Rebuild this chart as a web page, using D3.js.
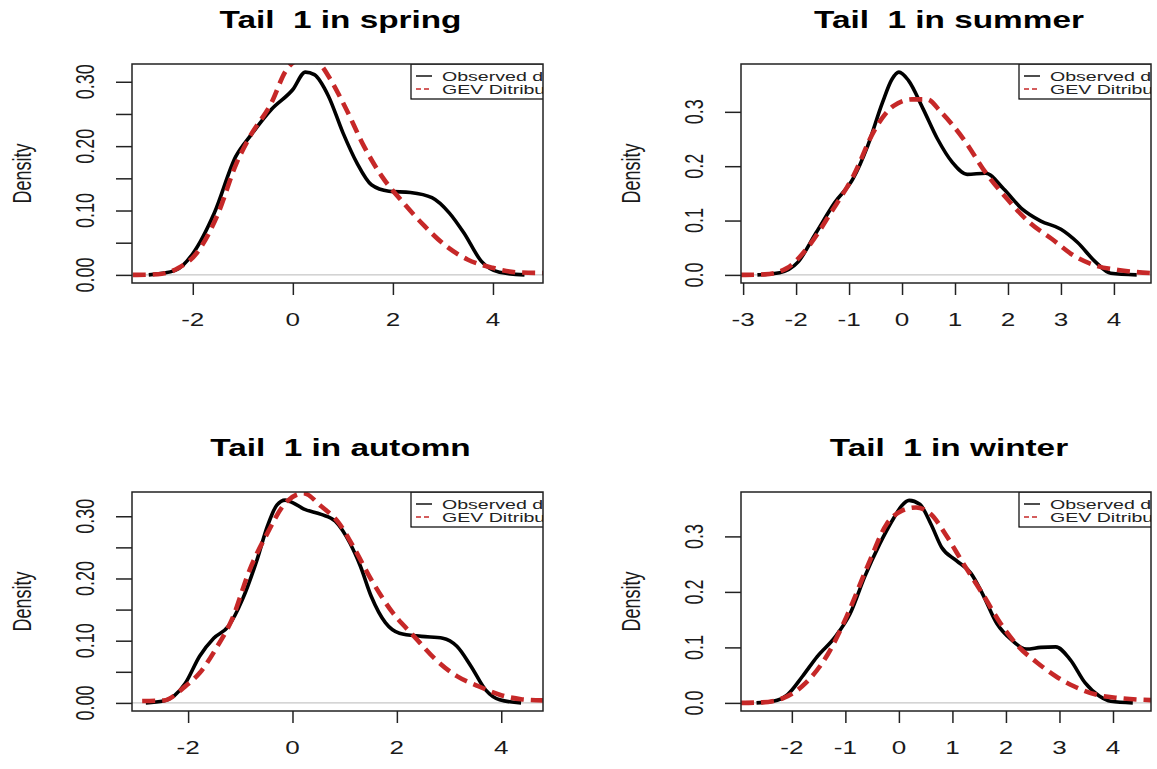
<!DOCTYPE html>
<html><head><meta charset="utf-8">
<script src="https://cdn.jsdelivr.net/npm/d3@7"></script>
<style>body{margin:0;background:#fff}</style>
</head><body>
<svg id="chart" width="1157" height="769"></svg>
<script>
// ---------- data ----------
const seasons = ["spring", "summer", "automn", "winter"];
const legendLabels = ["Observed density", "GEV Ditribution"];
const yAxisLabel = "Density";

const springXlim = [-3.215, 5.0];
const summerXlim = [-3.04, 4.70];
const autumnXlim = [-3.075, 4.80];
const winterXlim = [-2.95, 4.71];

const springYlim = [-0.0126, 0.3276];
const summerYlim = [-0.0149, 0.388];
const autumnYlim = [-0.013, 0.339];
const winterYlim = [-0.0146, 0.380];

const springXTicks = [-2, 0, 2, 4];
const summerXTicks = [-3, -2, -1, 0, 1, 2, 3, 4];
const autumnXTicks = [-2, 0, 2, 4];
const winterXTicks = [-2, -1, 0, 1, 2, 3, 4];

const springYTicks = [0, 0.05, 0.10, 0.15, 0.20, 0.25, 0.30];
const summerYTicks = [0, 0.1, 0.2, 0.3];
const autumnYTicks = [0, 0.05, 0.10, 0.15, 0.20, 0.25, 0.30];
const winterYTicks = [0, 0.1, 0.2, 0.3];

const springYLabels = ["0.00", "0.10", "0.20", "0.30"];
const summerYLabels = ["0.0", "0.1", "0.2", "0.3"];
const autumnYLabels = ["0.00", "0.10", "0.20", "0.30"];
const winterYLabels = ["0.0", "0.1", "0.2", "0.3"];

const springObserved = [[-2.88,0],[-2.35,0.007],[-1.99,0.034],[-1.57,0.096],[-1.14,0.184],[-0.85,0.216],[-0.43,0.257],[0,0.288],[0.25,0.315],[0.43,0.311],[0.71,0.278],[1.0,0.221],[1.28,0.174],[1.57,0.140],[1.92,0.130],[2.35,0.128],[2.78,0.120],[3.13,0.096],[3.42,0.065],[3.77,0.021],[4.13,0.004],[4.63,0]];
const springGEV = [[-3.2,0],[-2.7,0.001],[-2.28,0.011],[-1.92,0.034],[-1.49,0.096],[-1.14,0.171],[-0.85,0.216],[-0.43,0.267],[-0.14,0.317],[0.05,0.332],[0.3,0.337],[0.55,0.327],[0.71,0.309],[1.07,0.257],[1.42,0.200],[1.78,0.153],[2.21,0.112],[2.63,0.076],[3.06,0.045],[3.49,0.024],[3.99,0.011],[4.48,0.004],[5.0,0.003]];

const summerObserved = [[-2.73,0],[-2.31,0.004],[-1.97,0.023],[-1.62,0.078],[-1.27,0.133],[-0.93,0.176],[-0.65,0.237],[-0.37,0.317],[-0.19,0.360],[-0.06,0.373],[0.12,0.358],[0.40,0.305],[0.67,0.250],[0.95,0.207],[1.23,0.185],[1.58,0.187],[1.92,0.158],[2.27,0.121],[2.62,0.099],[3.0,0.084],[3.31,0.060],[3.66,0.023],[3.94,0.003],[4.43,0]];
const summerGEV = [[-3.04,0],[-2.59,0.001],[-2.18,0.012],[-1.76,0.053],[-1.34,0.115],[-0.92,0.182],[-0.51,0.268],[-0.16,0.311],[0.19,0.323],[0.47,0.323],[0.74,0.299],[1.16,0.250],[1.58,0.188],[1.99,0.139],[2.41,0.096],[2.83,0.066],[3.25,0.035],[3.66,0.017],[4.08,0.009],[4.74,0.003]];

const autumnObserved = [[-2.81,0],[-2.47,0.003],[-2.05,0.032],[-1.78,0.075],[-1.51,0.104],[-1.23,0.123],[-0.96,0.166],[-0.68,0.230],[-0.48,0.284],[-0.30,0.318],[-0.14,0.326],[0.0,0.322],[0.21,0.312],[0.55,0.303],[0.82,0.292],[1.10,0.257],[1.30,0.220],[1.51,0.171],[1.78,0.129],[2.05,0.112],[2.47,0.107],[2.88,0.104],[3.15,0.091],[3.42,0.059],[3.70,0.021],[3.97,0.005],[4.38,0]];
const autumnGEV = [[-2.88,0.003],[-2.47,0.004],[-2.05,0.027],[-1.78,0.048],[-1.44,0.091],[-1.16,0.134],[-0.82,0.214],[-0.48,0.273],[-0.14,0.321],[0.21,0.337],[0.55,0.316],[0.89,0.289],[1.16,0.252],[1.51,0.198],[1.92,0.145],[2.33,0.107],[2.74,0.070],[3.15,0.043],[3.56,0.027],[3.97,0.013],[4.38,0.006],[4.8,0.004]];

const winterObserved = [[-2.66,0],[-2.35,0.003],[-2.08,0.015],[-1.80,0.048],[-1.53,0.083],[-1.19,0.119],[-0.91,0.161],[-0.64,0.227],[-0.36,0.286],[-0.09,0.334],[0.05,0.355],[0.19,0.365],[0.39,0.358],[0.60,0.322],[0.80,0.280],[1.08,0.256],[1.35,0.233],[1.56,0.197],[1.83,0.143],[2.11,0.113],[2.38,0.097],[2.65,0.100],[2.93,0.101],[3.20,0.078],[3.48,0.036],[3.75,0.012],[3.96,0.003],[4.37,0]];
const winterGEV = [[-2.95,0],[-2.56,0.001],[-2.15,0.009],[-1.74,0.036],[-1.32,0.089],[-0.98,0.155],[-0.57,0.250],[-0.23,0.322],[0.05,0.346],[0.32,0.352],[0.60,0.340],[0.87,0.304],[1.21,0.250],[1.56,0.197],[1.90,0.143],[2.24,0.101],[2.59,0.072],[2.93,0.048],[3.27,0.030],[3.68,0.015],[4.09,0.009],[4.71,0.005]];

// ---------- layout ----------
const panels = [
  {season: seasons[0], box: [132, 64, 543, 283], xlim: springXlim, ylim: springYlim, xt: springXTicks, yt: springYTicks, yl: springYLabels, obs: springObserved, gev: springGEV},
  {season: seasons[1], box: [741, 64, 1151, 283], xlim: summerXlim, ylim: summerYlim, xt: summerXTicks, yt: summerYTicks, yl: summerYLabels, obs: summerObserved, gev: summerGEV},
  {season: seasons[2], box: [132, 492, 543, 711], xlim: autumnXlim, ylim: autumnYlim, xt: autumnXTicks, yt: autumnYTicks, yl: autumnYLabels, obs: autumnObserved, gev: autumnGEV},
  {season: seasons[3], box: [741, 492, 1151, 711], xlim: winterXlim, ylim: winterYlim, xt: winterXTicks, yt: winterYTicks, yl: winterYLabels, obs: winterObserved, gev: winterGEV}
];

const FONT = "'Liberation Sans', Arial, Helvetica, sans-serif";
const SX = 1.45;           // horizontal stretch of the original picture
const RED = "#c62828";
const INK = "#1a1a1a";

const svg = d3.select("#chart");

function stretchedText(g, x, y, str, size, opts = {}) {
  const rot = opts.rotate ? ` rotate(${opts.rotate})` : "";
  return g.append("text")
    .attr("transform", `translate(${x},${y}) scale(${SX},1)${rot}`)
    .attr("y", 0.358 * size)
    .attr("text-anchor", opts.anchor || "middle")
    .attr("font-family", FONT)
    .attr("font-size", size)
    .attr("font-weight", opts.bold ? "bold" : "normal")
    .attr("fill", opts.fill || INK)
    .style("white-space", "pre")
    .text(str);
}

panels.forEach((p, i) => {
  const [L, T, R, B] = p.box;
  const g = svg.append("g");
  const x = d3.scaleLinear().domain(p.xlim).range([L, R]);
  const y = d3.scaleLinear().domain(p.ylim).range([B, T]);

  const clipId = "clip" + i;
  svg.append("defs").append("clipPath").attr("id", clipId)
    .append("rect").attr("x", L).attr("y", T).attr("width", R - L).attr("height", B - T);
  const inner = g.append("g").attr("clip-path", `url(#${clipId})`);

  // zero line
  inner.append("line")
    .attr("x1", L).attr("x2", R).attr("y1", y(0)).attr("y2", y(0))
    .attr("stroke", "#b8b8b8").attr("stroke-width", 1);

  const line = d3.line().x(d => x(d[0])).y(d => y(d[1])).curve(d3.curveMonotoneX);

  inner.append("path").datum(p.obs).attr("d", line)
    .attr("fill", "none").attr("stroke", "#000").attr("stroke-width", 3.6)
    .attr("stroke-linejoin", "round");
  inner.append("path").datum(p.gev).attr("d", line)
    .attr("fill", "none").attr("stroke", RED).attr("stroke-width", 4.6)
    .attr("stroke-dasharray", "13,7");

  // legend (topright, clipped by plot region like the original)
  const lx = R - 132;
  const lg = inner.append("g");
  lg.append("rect").attr("x", lx).attr("y", T).attr("width", 160).attr("height", 35)
    .attr("fill", "#fff").attr("stroke", "#000").attr("stroke-width", 1.2);
  const rows = [T + 12, T + 25];
  lg.append("line").attr("x1", lx + 5).attr("x2", lx + 21).attr("y1", rows[0]).attr("y2", rows[0])
    .attr("stroke", "#000").attr("stroke-width", 1.4);
  lg.append("line").attr("x1", lx + 5).attr("x2", lx + 21).attr("y1", rows[1]).attr("y2", rows[1])
    .attr("stroke", RED).attr("stroke-width", 1.4).attr("stroke-dasharray", "5,3");
  legendLabels.forEach((t, k) => {
    stretchedText(lg, lx + 31, rows[k], t, 13.5, {anchor: "start", fill: "#222"});
  });

  // box
  g.append("rect").attr("x", L).attr("y", T).attr("width", R - L).attr("height", B - T)
    .attr("fill", "none").attr("stroke", "#222").attr("stroke-width", 1.5);

  // x axis ticks
  const xa = g.append("g").attr("transform", `translate(0,${B})`)
    .call(d3.axisBottom(x).tickValues(p.xt).tickSize(12).tickSizeOuter(0).tickFormat(""));
  xa.select(".domain").remove();
  xa.selectAll(".tick line").attr("stroke", "#222").attr("stroke-width", 1.5);
  p.xt.forEach(v => stretchedText(g, x(v), B + 37, String(v), 18));

  // y axis ticks
  const ya = g.append("g").attr("transform", `translate(${L},0)`)
    .call(d3.axisLeft(y).tickValues(p.yt).tickSize(16).tickSizeOuter(0).tickFormat(""));
  ya.select(".domain").remove();
  ya.selectAll(".tick line").attr("stroke", "#222").attr("stroke-width", 1.5);
  p.yl.forEach(s => stretchedText(g, L - 47, y(+s), s, 18, {rotate: -90}));

  // y label
  stretchedText(g, L - 110, (T + B) / 2, yAxisLabel, 18, {rotate: -90});

  // title
  stretchedText(g, (L + R) / 2 + 3, T - 44, "Tail  1 in " + p.season, 23, {bold: true, fill: "#000"});
});
</script>
</body></html>
